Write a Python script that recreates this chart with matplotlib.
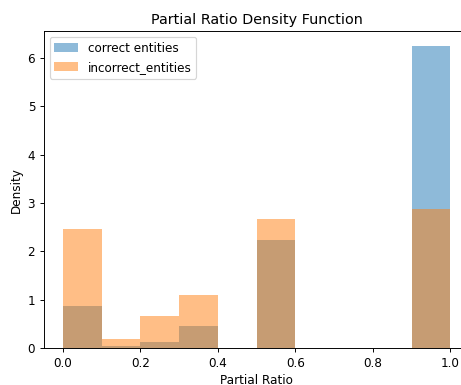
import matplotlib
matplotlib.use("Agg")
import matplotlib.pyplot as plt
import numpy as np

bin_edges = [0.0, 0.1, 0.2, 0.3, 0.4, 0.5, 0.6, 0.7, 0.8, 0.9, 1.0]
correct_density = [0.867, 0.048, 0.124, 0.454, 0.0, 2.237, 0.0, 0.0, 0.0, 6.24]
incorrect_density = [2.457, 0.186, 0.668, 1.10, 0.0, 2.663, 0.0, 0.0, 0.0, 2.87]
labels = ["correct entities", "incorrect_entities"]

W, H = 461, 385
DPI = 86
fig = plt.figure(figsize=(W / DPI, H / DPI), dpi=DPI)
left, right, bottom, top = 43.6, 469.7, 348.3, 31.0
ax = fig.add_axes([left / W, (H - bottom) / H, (right - left) / W, (bottom - top) / H])

edges = np.array(bin_edges)
centers = (edges[:-1] + edges[1:]) / 2
ax.hist(centers, bins=edges, weights=correct_density, alpha=0.5, label=labels[0])
ax.hist(centers, bins=edges, weights=incorrect_density, alpha=0.5, label=labels[1])

ax.set_title("Partial Ratio Density Function")
ax.set_xlabel("Partial Ratio")
ax.set_ylabel("Density")
ax.legend(loc="upper left")

fig.savefig("out.png", dpi=DPI)
